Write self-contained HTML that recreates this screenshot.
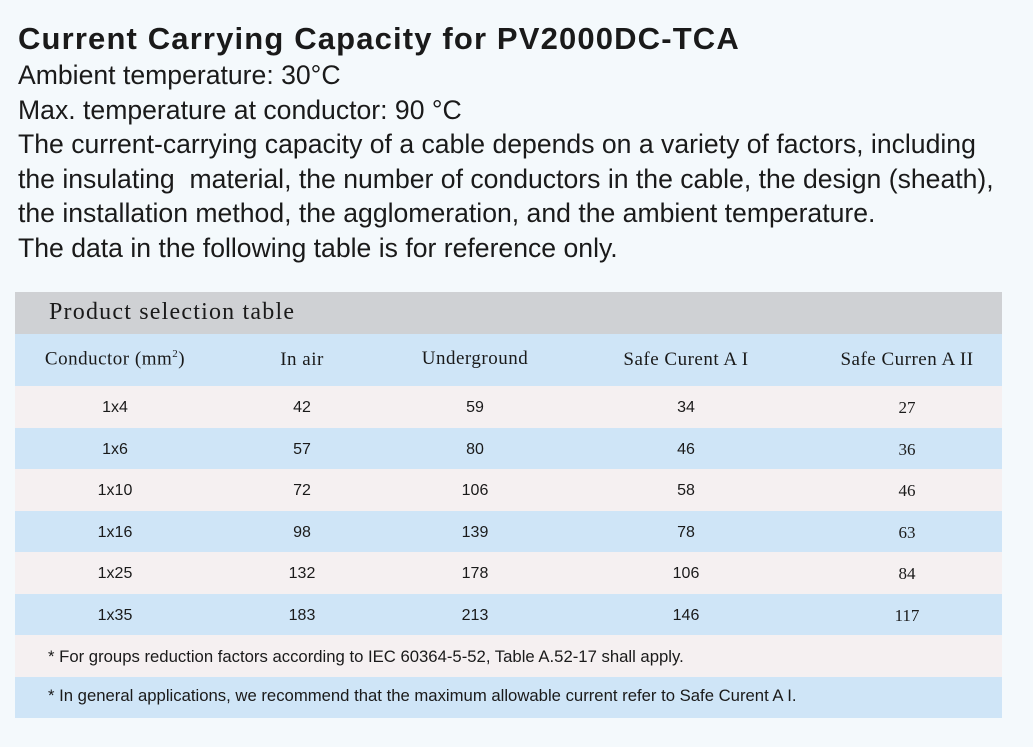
<!DOCTYPE html>
<html><head><meta charset="utf-8"><style>
body{margin:0;width:1033px;height:747px;background:#f4f9fc;font-family:"Liberation Sans",sans-serif;position:relative;overflow:hidden;color:#1a1a1a}
.t{position:absolute;left:18px;white-space:nowrap}
.r{position:absolute;left:15px;width:987px}
.c{position:absolute;transform:translateX(-50%);white-space:nowrap}
.s{font-family:"Liberation Serif",serif}
</style></head><body>
<div class="t" style="top:21px;font-size:31px;font-weight:bold;letter-spacing:1.15px">Current Carrying Capacity for PV2000DC-TCA</div>
<div class="t" style="top:58px;font-size:26.6px;line-height:34.5px;">Ambient temperature: 30°C<br>Max. temperature at conductor: 90 °C<br>The current-carrying capacity of a cable depends on a variety of factors, including<br>the insulating&nbsp; material, the number of conductors in the cable, the design (sheath),<br>the installation method, the agglomeration, and the ambient temperature.<br>The data in the following table is for reference only.</div>
<div class="r" style="top:292px;height:42px;background:#cfd1d4"><span class="s" style="position:absolute;left:34px;top:7px;font-size:24px;letter-spacing:1.2px">Product selection table</span></div>
<div class="r" style="top:334px;height:52px;background:#cfe5f7;font-size:19px;letter-spacing:0.5px">
<span class="c s" style="left:100px;top:14px">Conductor (mm<sup style="font-size:11px">2</sup>)</span>
<span class="c s" style="left:287px;top:15px">In air</span>
<span class="c s" style="left:460px;top:14px">Underground</span>
<span class="c s" style="left:671px;top:15px">Safe Curent A I</span>
<span class="c s" style="left:892px;top:15px">Safe Curren A II</span>
</div>
<div id="rows"></div>
<div class="r" style="top:635px;height:42px;background:#f5f0f1;font-size:16.7px"><span style="position:absolute;left:33px;top:12px">* For groups reduction factors according to IEC 60364-5-52, Table A.52-17 shall apply.</span></div>
<div class="r" style="top:677px;height:41px;background:#cfe5f7;font-size:16.7px"><span style="position:absolute;left:33px;top:9px">* In general applications, we recommend that the maximum allowable current refer to Safe Curent A I.</span></div>
<script>
var d=[["1x4",42,59,34,27],["1x6",57,80,46,36],["1x10",72,106,58,46],["1x16",98,139,78,63],["1x25",132,178,106,84],["1x35",183,213,146,117]];
var h="",xs=[100,287,460,671,892];
d.forEach(function(r,i){var top=386+i*41.5;h+='<div class="r" style="top:'+top+'px;height:41.5px;background:'+(i%2?'#cfe5f7':'#f5f0f1')+';font-size:16px">';
r.forEach(function(v,j){h+='<span class="c'+(j==4?' s':'')+'" style="left:'+xs[j]+'px;top:'+(j==4?12:13)+'px;'+(j==4?'font-size:17px':'')+'">'+v+'</span>';});h+='</div>';});
document.getElementById('rows').innerHTML=h;
</script>
</body></html>
